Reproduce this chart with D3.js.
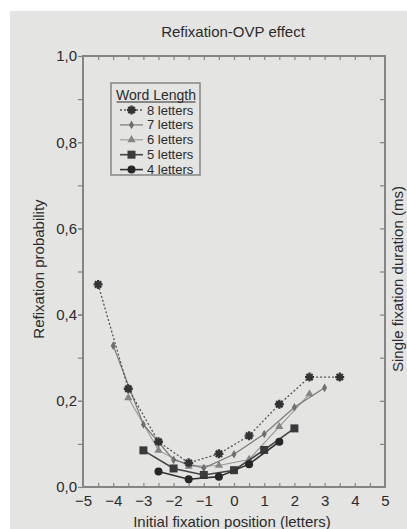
<!DOCTYPE html>
<html><head><meta charset="utf-8">
<script src="https://cdn.jsdelivr.net/npm/d3@7"></script>
<style>
body{margin:0;background:#fff}
svg{display:block}
text{font-family:"Liberation Sans",Arial,Helvetica,sans-serif;fill:#2b2b2b}
</style>
</head><body>
<svg id="c" width="407" height="529"></svg>
<script>
// ---- data ----
const title = "Refixation-OVP effect";
const xLabel = "Initial fixation position (letters)";
const yLabel = "Refixation probability";
const y2Label = "Single fixation duration (ms)";
const legendTitle = "Word Length";
const xTicks = [-5,-4,-3,-2,-1,0,1,2,3,4,5];
const yTicks = [0,0.2,0.4,0.6,0.8,1.0];
const seriesNames = ["8 letters","7 letters","6 letters","5 letters","4 letters"];
const pos8 = [-4.5,-3.5,-2.5,-1.5,-0.5,0.5,1.5,2.5,3.5];
const val8 = [0.47,0.228,0.105,0.056,0.077,0.119,0.192,0.255,0.255];
const pos7 = [-4,-3,-2,-1,0,1,2,3];
const val7 = [0.328,0.145,0.063,0.044,0.076,0.123,0.185,0.23];
const pos6 = [-3.5,-2.5,-1.5,-0.5,0.5,1.5,2.5];
const val6 = [0.207,0.085,0.048,0.05,0.064,0.14,0.216];
const pos5 = [-3,-2,-1,0,1,2];
const val5 = [0.085,0.043,0.028,0.039,0.086,0.136];
const pos4 = [-2.5,-1.5,-0.5,0.5,1.5];
const val4 = [0.036,0.018,0.024,0.053,0.105];

const svg = d3.select("#c");
const W = 407, H = 529;
// scanned page background
svg.append("rect").attr("x",0).attr("y",0).attr("width",W).attr("height",H).attr("fill","#ffffff");
svg.append("rect").attr("x",10).attr("y",11).attr("width",W-10).attr("height",H-11).attr("fill","#e4e4e2");

const x = d3.scaleLinear().domain([-5,5]).range([83,385]);
const y = d3.scaleLinear().domain([0,1]).range([487,56]);
const axisCol = "#858585";

// minor ticks
const halfTicks = d3.range(-4.5,5,0.5);
const tenthTicks = d3.range(1,10).map(d=>d/10);
function styleAxis(g){ g.select(".domain").remove(); g.selectAll("line").attr("stroke",axisCol).attr("stroke-width",1.2); }
svg.append("g").attr("transform",`translate(0,${y(0)})`)
  .call(d3.axisBottom(x).tickValues(halfTicks).tickSize(-4).tickFormat("")).call(styleAxis);
svg.append("g").attr("transform",`translate(0,${y(1)})`)
  .call(d3.axisTop(x).tickValues(halfTicks).tickSize(-4).tickFormat("")).call(styleAxis);
svg.append("g").attr("transform",`translate(${x(-5)},0)`)
  .call(d3.axisLeft(y).tickValues(tenthTicks).tickSize(5).tickFormat("")).call(styleAxis);
svg.append("g").attr("transform",`translate(${x(5)},0)`)
  .call(d3.axisRight(y).tickValues(tenthTicks).tickSize(-5).tickFormat("")).call(styleAxis);

// labelled axes
const xa = svg.append("g").attr("transform",`translate(0,${y(0)})`)
  .call(d3.axisBottom(x).tickValues(xTicks).tickSize(0).tickPadding(8)
    .tickFormat(d=> d<0 ? "\u2212"+Math.abs(d) : String(d)));
xa.select(".domain").remove();
xa.selectAll("text").style("font-size","15px").attr("fill","#2b2b2b").attr("font-family",null);
const ya = svg.append("g").attr("transform",`translate(${x(-5)},0)`)
  .call(d3.axisLeft(y).tickValues(yTicks).tickSize(5).tickPadding(1)
    .tickFormat(d=> d3.format(".1f")(d).replace(".",",")));
ya.select(".domain").remove();
ya.selectAll("line").attr("stroke",axisCol).attr("stroke-width",1.2);
ya.selectAll("text").style("font-size","15px").attr("fill","#2b2b2b").attr("font-family",null);

// frame
svg.append("rect").attr("x",x(-5)).attr("y",y(1)).attr("width",x(5)-x(-5)).attr("height",y(0)-y(1))
  .attr("fill","none").attr("stroke",axisCol).attr("stroke-width",2);

// titles
svg.append("text").attr("x",233).attr("y",37).attr("text-anchor","middle").style("font-size","15px").text(title);
svg.append("text").attr("x",232).attr("y",527).attr("text-anchor","middle").style("font-size","15px").text(xLabel);
svg.append("text").attr("transform","translate(43.5,269) rotate(-90)").attr("text-anchor","middle").style("font-size","15px").text(yLabel);
svg.append("text").attr("transform","translate(403,372) rotate(-90)").attr("text-anchor","start").style("font-size","15px").text(y2Label);

// marker generators
function starPath(s){ const r=s/2, d=r*0.7; return `M${-r},0L${r},0M0,${-r}L0,${r}M${-d},${-d}L${d},${d}M${-d},${d}L${d},${-d}`; }
const series = [
  {name:seriesNames[0], pos:pos8, val:val8, line:"#555", w:1.3, dash:"2,2", mark:"star", mcol:"#333", ms:9},
  {name:seriesNames[1], pos:pos7, val:val7, line:"#7a7a7a", w:1.2, dash:null, mark:"diamond", mcol:"#6e6e6e", ms:6},
  {name:seriesNames[2], pos:pos6, val:val6, line:"#999", w:1.1, dash:null, mark:"triangle", mcol:"#858585", ms:7},
  {name:seriesNames[3], pos:pos5, val:val5, line:"#444", w:1.6, dash:null, mark:"square", mcol:"#3a3a3a", ms:8},
  {name:seriesNames[4], pos:pos4, val:val4, line:"#333", w:1.6, dash:null, mark:"circle", mcol:"#262626", ms:8}
];
function drawMarker(g, s, cx, cy){
  if(s.mark==="star"){
    g.append("path").attr("d",starPath(s.ms)).attr("transform",`translate(${cx},${cy})`)
      .attr("stroke",s.mcol).attr("stroke-width",2.3).attr("fill","none");
    g.append("circle").attr("cx",cx).attr("cy",cy).attr("r",2.2).attr("fill",s.mcol);
  } else {
    const types={diamond:d3.symbolDiamond, triangle:d3.symbolTriangle, square:d3.symbolSquare, circle:d3.symbolCircle};
    const size = s.mark==="square" ? s.ms*s.ms : s.mark==="circle" ? Math.PI*(s.ms/2)*(s.ms/2) : s.ms*s.ms*0.6;
    g.append("path").attr("d",d3.symbol().type(types[s.mark]).size(size)())
      .attr("transform",`translate(${cx},${cy})`).attr("fill",s.mcol);
  }
}
const line = d3.line().x(d=>x(d[0])).y(d=>y(d[1]));
// draw lighter series first
[2,1,0,3,4].forEach(i=>{
  const s = series[i];
  const pts = s.pos.map((p,j)=>[p,s.val[j]]);
  const g = svg.append("g");
  g.append("path").attr("d",line(pts)).attr("fill","none").attr("stroke",s.line)
    .attr("stroke-width",s.w).attr("stroke-dasharray",s.dash);
  pts.forEach(p=>drawMarker(g,s,x(p[0]),y(p[1])));
});

// legend
const lg = svg.append("g");
lg.append("rect").attr("x",111).attr("y",83).attr("width",89).attr("height",92)
  .attr("fill","none").attr("stroke","#8a8a8a").attr("stroke-width",1.6);
lg.append("text").attr("x",156).attr("y",100).attr("text-anchor","middle").style("font-size","14px").text(legendTitle);
lg.append("line").attr("x1",116.5).attr("x2",195.5).attr("y1",102).attr("y2",102).attr("stroke","#2b2b2b").attr("stroke-width",1);
series.forEach((s,i)=>{
  const cy = 110 + i*14.9;
  lg.append("line").attr("x1",120).attr("x2",143).attr("y1",cy).attr("y2",cy)
    .attr("stroke",s.line).attr("stroke-width",s.w).attr("stroke-dasharray",s.dash);
  drawMarker(lg, s, 131.5, cy);
  lg.append("text").attr("x",147).attr("y",cy).attr("dy","0.35em").style("font-size","13px").text(s.name);
});
</script>
</body></html>
